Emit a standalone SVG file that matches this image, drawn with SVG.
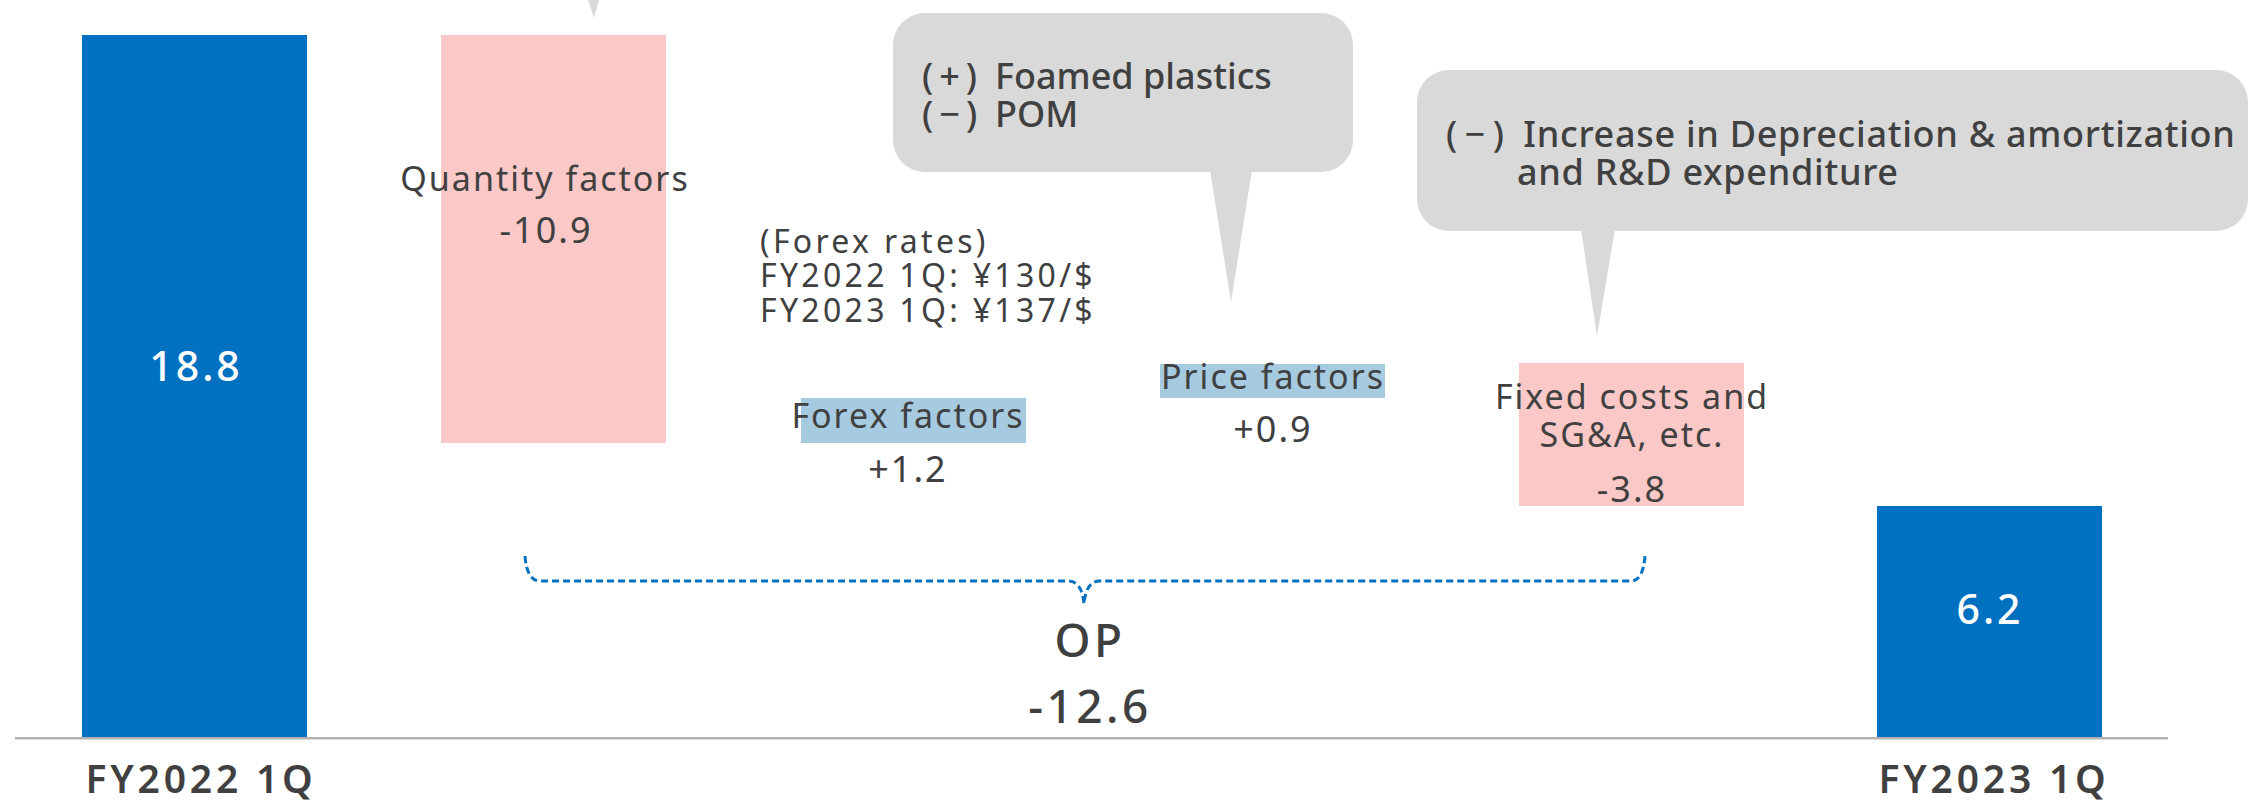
<svg xmlns="http://www.w3.org/2000/svg" width="2249" height="802" viewBox="0 0 2249 802">
<style>
text{font-family:"Noto Sans","DejaVu Sans",sans-serif;fill:#404040}
.lbl{font-size:34px;letter-spacing:2px;text-anchor:middle}
.val{font-size:36px;letter-spacing:2px;text-anchor:middle}
.note{font-size:32px;letter-spacing:3.3px}
.call{font-size:36px;font-weight:500}
.big{font-size:41px;font-weight:500;letter-spacing:3px;text-anchor:middle;fill:#FFFFFF}
.axis{font-size:39px;font-weight:600;letter-spacing:3.8px;text-anchor:middle}
.op{font-size:46px;font-weight:500;letter-spacing:3.5px;text-anchor:middle}
.bar{fill:#0070C0}
.neg{fill:#FAC8C6}
.pos{fill:#A6CAE0}
.bubble{fill:#D9D9D9}
</style>

<g id="axis-line">
<rect x="15" y="737" width="2153" height="2.5" fill="#B3B3B3"/>
</g>

<g id="callout-top-tail">
<polygon class="bubble" points="588,0 599,0 594,18"/>
</g>

<g id="bar-fy2022">
<rect class="bar" x="82" y="35" width="225" height="702"/>
<text class="big" x="196" y="381">18.8</text>
<text class="axis" x="201" y="793">FY2022 1Q</text>
</g>

<g id="quantity-factors">
<rect class="neg" x="441" y="35" width="225" height="408"/>
<text class="lbl" x="545" y="191">Quantity factors</text>
<text class="val" x="546" y="243">-10.9</text>
</g>

<g id="forex-rates-note">
<text class="note" x="760" y="253">(Forex rates)</text>
<text class="note" x="760" y="287">FY2022 1Q: ¥130/$</text>
<text class="note" x="760" y="322">FY2023 1Q: ¥137/$</text>
</g>

<g id="forex-factors">
<rect class="pos" x="801" y="398" width="225" height="45"/>
<text class="lbl" x="908" y="428">Forex factors</text>
<text class="val" x="908" y="482">+1.2</text>
</g>

<g id="callout-price">
<rect class="bubble" x="893" y="13" width="460" height="159" rx="32" ry="32"/>
<polygon class="bubble" points="1210,170 1252,170 1231,302"/>
<text class="call" x="922" y="89">(&#8201;+&#8201;)&#8194;Foamed plastics</text>
<text class="call" x="922" y="127">(&#8201;−&#8201;)&#8194;POM</text>
</g>

<g id="price-factors">
<rect class="pos" x="1160" y="364" width="225" height="34"/>
<text class="lbl" x="1273" y="389">Price factors</text>
<text class="val" x="1273" y="442">+0.9</text>
</g>

<g id="callout-fixed">
<rect class="bubble" x="1417" y="70" width="831" height="161" rx="32" ry="32"/>
<polygon class="bubble" points="1581,229 1615,229 1597,336"/>
<text class="call" x="1446" y="147" style="letter-spacing:0.7px">(&#8201;−&#8201;)&#8194;Increase in Depreciation &amp; amortization</text>
<text class="call" x="1517" y="185" style="letter-spacing:0.7px">and R&amp;D expenditure</text>
</g>

<g id="fixed-costs">
<rect class="neg" x="1519" y="363" width="225" height="143"/>
<text class="lbl" x="1632" y="409">Fixed costs and</text>
<text class="lbl" x="1632" y="447">SG&amp;A, etc.</text>
<text class="val" x="1632" y="502">-3.8</text>
</g>

<g id="bar-fy2023">
<rect class="bar" x="1877" y="506" width="225" height="231"/>
<text class="big" x="1990" y="624">6.2</text>
<text class="axis" x="1994" y="793">FY2023 1Q</text>
</g>

<g id="connectors">
<path d="M525,556 Q527,581 540,581 L1068,581 Q1082,581 1084,604 Q1086,581 1100,581 L1631,581 Q1643,581 1645,556" fill="none" stroke="#0070C0" stroke-width="3" stroke-dasharray="7 4"/>
</g>

<g id="op-total">
<text class="op" x="1090" y="657">OP</text>
<text class="op" x="1090" y="723">-12.6</text>
</g>
</svg>
